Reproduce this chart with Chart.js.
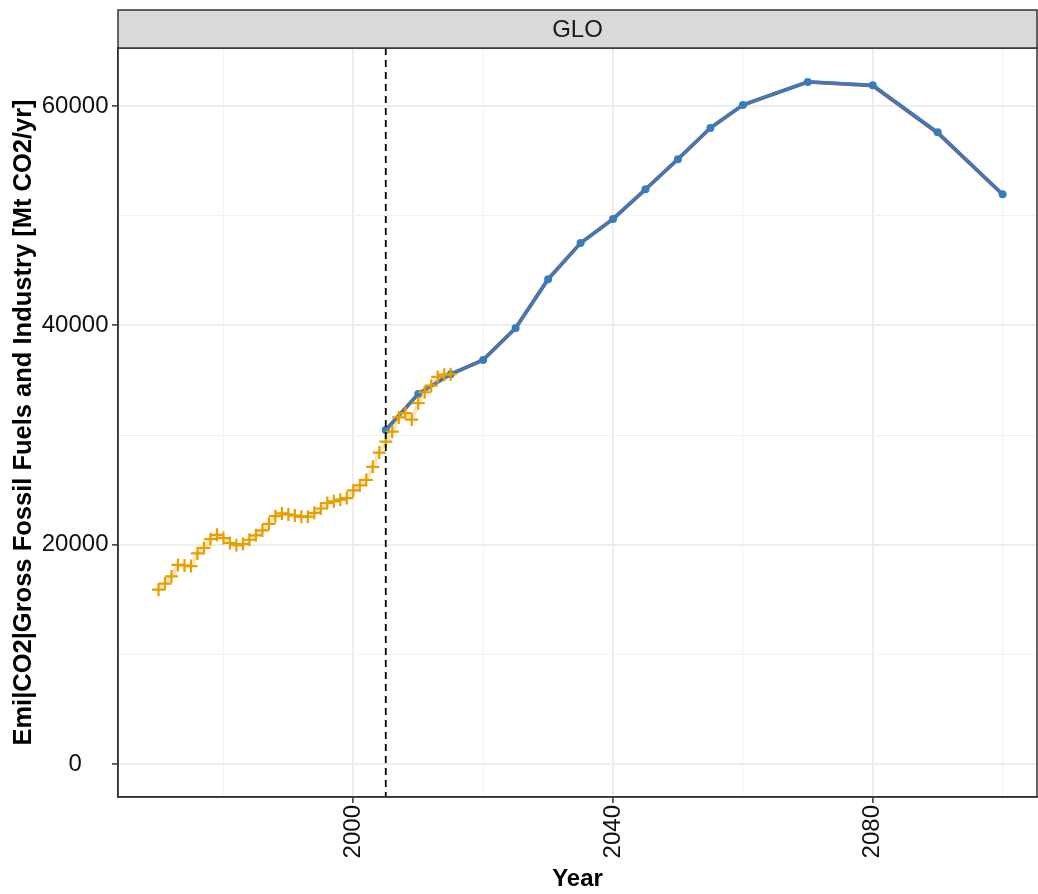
<!DOCTYPE html>
<html>
<head>
<meta charset="utf-8">
<script src="https://cdn.jsdelivr.net/npm/chart.js@4.4.0/dist/chart.umd.min.js"></script>
<style>
  html, body { margin: 0; padding: 0; background: #fff; overflow: hidden; }
  canvas { display: block; }
</style>
</head>
<body>
<canvas id="chart" width="1038" height="894"></canvas>
<script>
// Historical emissions (orange crosses)
const histYears = [1970, 1971, 1972, 1973, 1974, 1975, 1976, 1977, 1978, 1979,
  1980, 1981, 1982, 1983, 1984, 1985, 1986, 1987, 1988, 1989,
  1990, 1991, 1992, 1993, 1994, 1995, 1996, 1997, 1998, 1999,
  2000, 2001, 2002, 2003, 2004, 2005, 2006, 2007, 2008, 2009,
  2010, 2011, 2012, 2013, 2014, 2015];
const histValues = [15900, 16450, 17100, 18150, 18100, 18050, 19200, 19700, 20500, 20900,
  20600, 20150, 19950, 20050, 20450, 20850, 21300, 21900, 22600, 22850,
  22750, 22650, 22550, 22550, 22900, 23300, 23800, 23950, 24100, 24250,
  24950, 25400, 25900, 27100, 28400, 29400, 30300, 31600, 32000, 31400,
  32900, 33900, 34500, 35300, 35500, 35550];

// Scenario runs (blue on top, red just underneath)
const scenYears = [2005, 2010, 2015, 2020, 2025, 2030, 2035, 2040, 2045, 2050,
  2055, 2060, 2070, 2080, 2090, 2100];
const blueValues = [30450, 33750, 35550, 36850, 39750, 44200, 47500, 49700, 52400, 55150,
  58000, 60100, 62200, 61900, 57600, 51950];
const redValues = [30450, 33750, 35550, 36850, 39750, 44200, 47500, 49700, 52400, 55150,
  58000, 60100, 62200, 61850, 57550, 51950];

// Axes
const xTicks = [1980, 2000, 2020, 2040, 2060, 2080, 2100];
const xLabels = [2000, 2040, 2080];
const yTicks = [0, 10000, 20000, 30000, 40000, 50000, 60000];
const yLabels = [0, 20000, 40000, 60000];
const cutYear = 2005;
const panelTitle = 'GLO';

const toPoints = (xs, ys) => xs.map((x, i) => ({ x: x, y: ys[i] }));

const facetPlugin = {
  id: 'facet',
  afterDatasetsDraw(chart) {
    const { ctx, chartArea: a, scales } = chart;
    // dashed line at the base year
    const px = scales.x.getPixelForValue(cutYear);
    ctx.save();
    ctx.strokeStyle = '#000';
    ctx.lineWidth = 1.8;
    ctx.setLineDash([7, 5]);
    ctx.beginPath();
    ctx.moveTo(px, a.top);
    ctx.lineTo(px, a.bottom);
    ctx.stroke();
    ctx.restore();
  },
  afterDraw(chart) {
    const { ctx, chartArea: a } = chart;
    ctx.save();
    // panel border
    ctx.strokeStyle = '#333';
    ctx.lineWidth = 1.5;
    ctx.strokeRect(a.left, a.top, a.right - a.left, a.bottom - a.top);
    // strip
    const top = 10;
    ctx.fillStyle = '#D9D9D9';
    ctx.fillRect(a.left, top, a.right - a.left, a.top - top);
    ctx.strokeRect(a.left, top, a.right - a.left, a.top - top);
    ctx.fillStyle = '#1a1a1a';
    ctx.font = '24px "Liberation Sans", Arial, sans-serif';
    ctx.textAlign = 'center';
    ctx.textBaseline = 'middle';
    ctx.fillText(panelTitle, (a.left + a.right) / 2, (top + a.top) / 2 + 1);
    ctx.restore();
  }
};

Chart.defaults.font.family = '"Liberation Sans", Arial, sans-serif';

new Chart(document.getElementById('chart').getContext('2d'), {
  type: 'line',
  data: {
    datasets: [
      {
        data: toPoints(histYears, histValues),
        borderColor: 'rgba(230,159,0,0.28)',
        borderWidth: 4,
        pointStyle: 'cross',
        pointRadius: 6.5,
        pointBorderWidth: 2.2,
        pointBorderColor: '#E69F00',
        pointBackgroundColor: '#E69F00',
        tension: 0
      },
      {
        data: toPoints(scenYears, blueValues),
        borderColor: '#377EB8',
        borderWidth: 3.2,
        pointRadius: 4,
        pointBorderWidth: 0,
        pointBackgroundColor: '#377EB8',
        tension: 0
      },
      {
        data: toPoints(scenYears, redValues),
        borderColor: '#C4445A',
        borderWidth: 3.8,
        pointRadius: 0,
        tension: 0
      }
    ]
  },
  options: {
    responsive: false,
    animation: false,
    devicePixelRatio: 1,
    layout: { autoPadding: false, padding: { top: 48, right: 1, left: 0, bottom: 0 } },
    plugins: { legend: { display: false }, tooltip: { enabled: false } },
    scales: {
      x: {
        type: 'linear',
        min: 1963.76,
        max: 2105.3,
        afterBuildTicks: s => { s.ticks = xTicks.map(v => ({ value: v })); },
        afterFit: s => { s.height = 97; s.paddingLeft = 0; s.paddingRight = 0; },
        ticks: {
          autoSkip: false,
          minRotation: 90,
          maxRotation: 90,
          padding: 2,
          color: '#111',
          font: { size: 24 },
          callback: v => xLabels.includes(v) ? String(v) : ''
        },
        grid: {
          color: c => xLabels.includes(c.tick.value) ? '#EBEBEB' : '#F2F2F2',
          lineWidth: c => xLabels.includes(c.tick.value) ? 1.8 : 1,
          tickColor: c => xLabels.includes(c.tick.value) ? '#333' : 'rgba(0,0,0,0)',
          tickLength: 6,
          tickWidth: 1.5
        },
        border: { display: true, color: '#333', width: 1.5 },
        title: {
          display: true,
          text: 'Year',
          color: '#000',
          font: { size: 24, weight: 'bold' },
          padding: { top: 0, bottom: 0 }
        }
      },
      y: {
        type: 'linear',
        min: -3010,
        max: 65290,
        afterBuildTicks: s => { s.ticks = yTicks.map(v => ({ value: v })); },
        afterFit: s => { s.width = 118; s.paddingTop = 0; s.paddingBottom = 0; },
        ticks: {
          autoSkip: false,
          crossAlign: 'center',
          padding: 3.5,
          color: '#111',
          font: { size: 24 },
          callback: v => yLabels.includes(v) ? String(v) : ''
        },
        grid: {
          color: c => yLabels.includes(c.tick.value) ? '#EBEBEB' : '#F2F2F2',
          lineWidth: c => yLabels.includes(c.tick.value) ? 1.8 : 1,
          tickColor: c => yLabels.includes(c.tick.value) ? '#333' : 'rgba(0,0,0,0)',
          tickLength: 6,
          tickWidth: 1.5
        },
        border: { display: true, color: '#333', width: 1.5 },
        title: {
          display: true,
          text: 'Emi|CO2|Gross Fossil Fuels and Industry [Mt CO2/yr]',
          color: '#000',
          font: { size: 25.5, weight: 'bold' },
          padding: { top: 9, bottom: 0 }
        }
      }
    }
  },
  plugins: [facetPlugin]
});
</script>
</body>
</html>
